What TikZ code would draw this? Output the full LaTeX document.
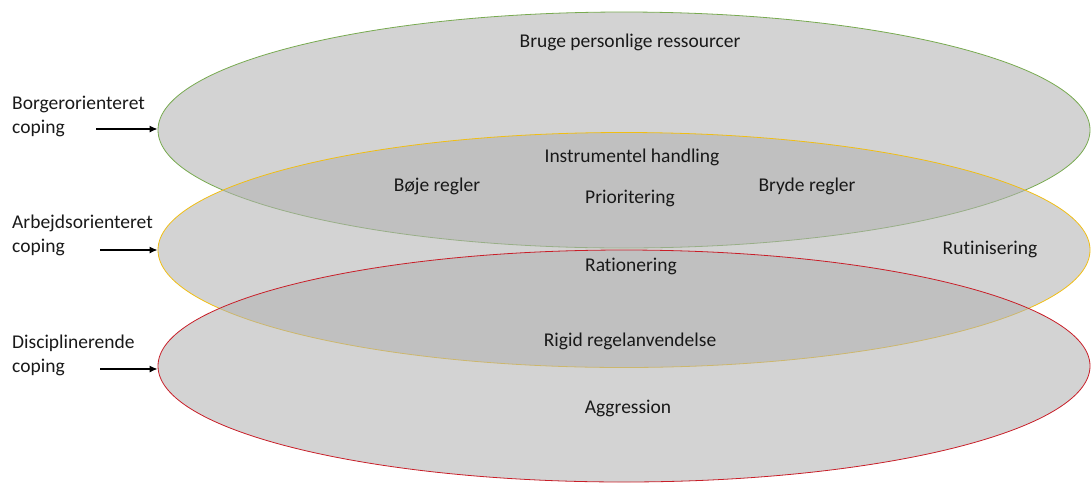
\documentclass[tikz,border=0pt]{standalone}
\usepackage{fontspec}
\setmainfont{Carlito}[Ligatures={NoCommon}]
\usetikzlibrary{shapes.geometric,arrows.meta}
\definecolor{ellfill}{RGB}{178,178,178}
\definecolor{egreen}{RGB}{120,170,80}
\definecolor{eyellow}{RGB}{240,190,20}
\definecolor{ered}{RGB}{200,30,40}
\definecolor{txt}{RGB}{25,25,25}
\tikzset{
  layer/.style={ellipse, inner sep=0pt, minimum width=932pt, fill=ellfill, fill opacity=0.57, line width=0.8pt},
  lbl/.style={font=\fontsize{19.5}{24}\selectfont, text=txt, inner sep=0pt},
  side/.style={lbl, align=left, anchor=west},
  arr/.style={-{Latex[length=8pt,width=7pt]}, line width=1.3pt, black}
}
\begin{document}
\begin{tikzpicture}[x=1pt,y=-1pt]
\useasboundingbox (0,0) rectangle (1091,483);
\node[layer, draw=egreen, minimum height=236pt] (green) at (624,130) {};
\node[layer, draw=eyellow, minimum height=235pt] (yellow) at (624,250) {};
\node[layer, draw=ered, minimum height=232pt] (red) at (624,366) {};

\node[lbl] (t1) at (630,42) {Bruge personlige ressourcer};
\node[lbl] (t2) at (632,157) {Instrumentel handling};
\node[lbl] (t3) at (437,186) {Bøje regler};
\node[lbl] (t4) at (630,198) {Prioritering};
\node[lbl] (t5) at (807,186) {Bryde regler};
\node[lbl] (t6) at (631,266) {Rationering};
\node[lbl] (t7) at (990,249) {Rutinisering};
\node[lbl] (t8) at (630,341) {Rigid regelanvendelse};
\node[lbl] (t9) at (628,408) {Aggression};

\node[side] (s1) at (12,116) {Borgerorienteret\\coping};
\node[side] (s2) at (12,235) {Arbejdsorienteret\\coping};
\node[side] (s3) at (12,355) {Disciplinerende\\coping};

\coordinate (a1) at (96,129);
\coordinate (a2) at (100,250);
\coordinate (a3) at (100,369);
\draw[arr] (a1) -- (a1 -| green.west);
\draw[arr] (a2) -- (a2 -| yellow.west);
\draw[arr] (a3) -- (a3 -| red.west);
\end{tikzpicture}
\end{document}
